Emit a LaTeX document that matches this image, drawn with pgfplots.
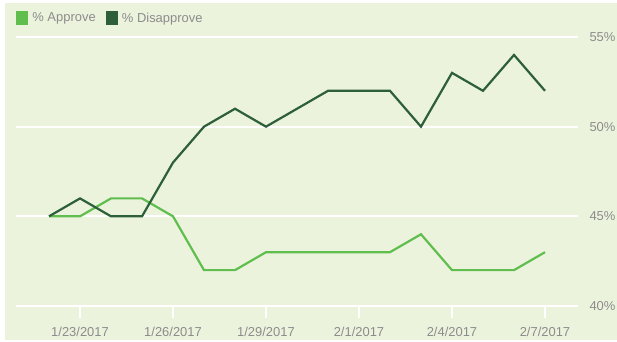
\documentclass[border=0pt]{standalone}
\usepackage{pgfplots}
\pgfplotsset{compat=1.18}
\usepackage{fontspec}
\setmainfont{Liberation Sans}
\definecolor{bg}{RGB}{236,243,221}
\definecolor{appr}{RGB}{96,190,78}
\definecolor{disap}{RGB}{44,95,58}
\definecolor{lbl}{RGB}{140,140,140}
\begin{document}
\begin{tikzpicture}
\useasboundingbox (0bp,0bp) rectangle (617bp,342bp);
\fill[bg] (5bp,2bp) rectangle (617bp,339bp);
\begin{axis}[
  at={(16bp,36bp)}, anchor=south west,
  scale only axis, width=562bp, height=269bp,
  xmin=-1.065, xmax=17.065, ymin=40, ymax=55,
  axis line style={draw=none},
  xtick={1,4,7,10,13,16},
  xticklabels={1/23/2017,1/26/2017,1/29/2017,2/1/2017,2/4/2017,2/7/2017},
  xtick pos=bottom,
  ytick={40,45,50,55},
  yticklabels={40\%,45\%,50\%,55\%},
  yticklabel pos=right,
  ymajorgrids, grid style={white, line width=1.8bp},
  xtick style={white, line width=1.8bp},
  ytick style={draw=none},
  tick align=outside, major tick length=12bp,
  x tick label style={font=\fontsize{13}{15}\selectfont, text=lbl, yshift=-6bp},
  y tick label style={font=\fontsize{13}{15}\selectfont, text=lbl, xshift=-4bp},
  legend columns=2,
  legend style={at={(axis description cs:0,1.07)}, anchor=west, draw=none, fill=none,
    inner sep=0pt, font=\fontsize{13}{15}\selectfont, text=lbl,
    /tikz/every even column/.append style={column sep=8bp}},
  legend cell align=left,
  legend image code/.code={\fill[#1] (0bp,-6bp) rectangle (10bp,6bp); \path (12bp,0bp);},
]
\addplot[color=appr, line width=2.2bp, mark=none] coordinates {
(0,45) (1,45) (2,46) (3,46) (4,45) (5,42) (6,42) (7,43) (8,43) (9,43) (10,43) (11,43) (12,44) (13,42) (14,42) (15,42) (16,43)};
\addlegendentry{\% Approve}
\addplot[color=disap, line width=2.2bp, mark=none] coordinates {
(0,45) (1,46) (2,45) (3,45) (4,48) (5,50) (6,51) (7,50) (8,51) (9,52) (10,52) (11,52) (12,50) (13,53) (14,52) (15,54) (16,52)};
\addlegendentry{\% Disapprove}
\end{axis}
\end{tikzpicture}
\end{document}
